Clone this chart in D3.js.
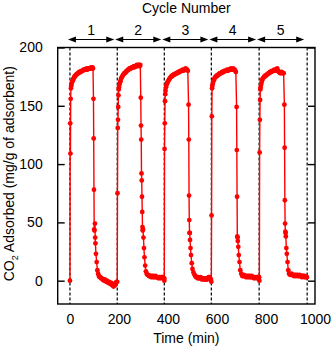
<!DOCTYPE html>
<html>
<head>
<meta charset="utf-8">
<script src="https://cdn.jsdelivr.net/npm/d3@7"></script>
<style>
  body { margin: 0; background: #fff; }
  svg { display: block; font-family: "Liberation Sans", Arial, sans-serif; }
</style>
</head>
<body>
<svg id="chart" width="331" height="348"></svg>
<script>
// cycle boundaries (min) and labels
var cycleBounds = [0, 193, 385, 577, 772, 968];
var cycleLabels = ["1", "2", "3", "4", "5"];
var xTicks = [0, 200, 400, 600, 800, 1000];
var yTicks = [0, 50, 100, 150, 200];

// [time (min), CO2 adsorbed (mg/g)]
var cycle1 = [[0,0],[1,135],[2,109],[3,156],[4,165],[5,167],[6,168],[8,170],[10,171],[12,172],[14,173],[16,174],[18,175],[20,175],[23,176],[26,177],[29,177],[32,178],[35,178],[38,179],[41,179],[44,179],[47,180],[50,180],[53,180],[56,181],[59,181],[62,181],[65,181],[68,182],[71,181],[74,182],[77,182],[80,182],[83,182],[86,183],[89,182],[92,183],[94,182],
  [96,156],[97,122],[98,78],[99,44],[100,43],[102,49],[103,37],[104,32],[106,23],[109,16],[112,9],[115,6],[118,4],[121,3],[124,3],[127,2],[130,2],[133,1],[136,1],[139,0],[142,1],[145,0],[148,-1],[151,0],[154,-1],[157,-2],[160,-1],[163,-2],[166,-3],[169,-2],[172,-4],[175,-3],[178,-5],[181,-3],[184,-4],[187,-2],[190,-1]];
var cycle2 = [[193,-1],[194,75],[195,131],[196,138],[197,149],[198,159],[199,164],[200,166],[202,168],[204,170],[206,171],[208,173],[210,174],[213,175],[216,176],[219,177],[222,178],[225,178],[228,179],[231,180],[234,180],[237,181],[240,181],[243,182],[246,182],[249,182],[252,183],[255,183],[258,183],[261,184],[264,183],[267,184],[270,184],[273,185],[276,184],[279,185],[282,185],[285,184],[287,185],
  [289,157],[290,133],[291,121],[292,92],[293,86],[294,72],[295,59],[296,46],[297,43],[298,44],[300,37],[302,28],[304,20],[307,13],[310,8],[313,6],[316,5],[319,5],[322,4],[325,4],[328,4],[331,3],[334,4],[337,3],[340,4],[343,3],[346,3],[349,4],[352,3],[355,3],[358,3],[361,2],[364,3],[367,3],[370,2],[373,3],[376,3],[379,3],[382,2],[385,2]];
var cycle3 = [[385,0],[386,113],[387,135],[388,154],[389,160],[390,163],[392,166],[394,168],[396,169],[398,170],[400,171],[403,172],[406,173],[409,174],[412,175],[415,175],[418,176],[421,176],[424,177],[427,177],[430,177],[433,178],[436,178],[439,178],[442,179],[445,179],[448,179],[451,180],[454,180],[457,180],[460,181],[463,180],[466,181],[469,181],[472,182],[475,181],[478,181],[481,180],
  [484,151],[485,121],[486,73],[487,52],[488,41],[489,41],[490,35],[492,28],[494,22],[497,15],[500,10],[504,7],[508,5],[512,4],[515,3],[518,3],[521,2],[524,3],[527,2],[530,2],[533,3],[536,2],[539,1],[542,2],[545,2],[548,1],[551,2],[554,1],[557,2],[560,1],[563,2],[566,3],[569,3],[572,2],[575,1],[577,-1]];
var cycle4 = [[578,56],[579,141],[580,165],[581,167],[583,169],[585,171],[587,172],[589,173],[591,174],[594,175],[597,175],[600,176],[603,176],[606,177],[609,177],[612,178],[615,178],[618,178],[621,179],[624,179],[627,179],[630,180],[633,180],[636,180],[639,180],[642,181],[645,180],[648,181],[651,181],[654,181],[657,182],[660,181],[663,181],[666,182],[669,181],[672,181],[675,180],[677,179],
  [680,149],[681,112],[682,72],[683,38],[684,37],[685,34],[687,29],[689,22],[692,16],[695,9],[699,6],[703,4],[706,4],[709,5],[712,4],[715,4],[718,3],[721,4],[724,3],[727,4],[730,3],[733,4],[736,3],[739,3],[742,4],[745,3],[748,3],[751,2],[754,3],[757,3],[760,2],[763,3],[766,3],[769,3],[772,3]];
var cycle5 = [[773,0],[774,110],[775,138],[776,155],[777,164],[778,166],[780,168],[782,170],[784,172],[786,173],[789,174],[792,175],[795,175],[798,176],[801,176],[804,177],[807,177],[810,178],[813,178],[816,179],[819,179],[822,179],[825,180],[828,180],[831,180],[834,181],[837,180],[840,181],[843,181],[846,182],[849,180],[852,179],[855,179],[858,178],[861,178],[864,179],[867,178],[870,178],[872,178],
  [875,151],[876,114],[877,69],[878,49],[879,42],[880,41],[881,38],[883,28],[885,23],[888,16],[891,9],[894,6],[898,5],[901,5],[904,6],[907,5],[910,5],[913,4],[916,5],[919,4],[922,5],[925,4],[928,5],[931,4],[934,4],[937,5],[940,4],[943,4],[946,3],[949,4],[952,4],[955,3],[958,4],[961,3],[964,3],[967,3]];

var series = [].concat(cycle1, cycle2, cycle3, cycle4, cycle5);

var svg = d3.select("#chart");
var plotL = 57.7, plotR = 315, plotT = 47.5, plotB = 304;

var x = d3.scaleLinear().domain([-50, 1000]).range([plotL, plotR]);
var y = d3.scaleLinear().domain([-20, 200]).range([plotB, plotT]);

// dashed cycle boundaries
svg.append("g").selectAll("line")
    .data(cycleBounds)
  .enter().append("line")
    .attr("x1", d => x(d)).attr("x2", d => x(d))
    .attr("y1", plotT).attr("y2", plotB)
    .attr("stroke", "#000")
    .attr("stroke-width", 1.2)
    .attr("stroke-dasharray", "3,2");

// data
var line = d3.line().x(d => x(d[0])).y(d => y(d[1]));
svg.append("path")
    .attr("d", line(series))
    .attr("fill", "none")
    .attr("stroke", "#ff0000")
    .attr("stroke-width", 1.4);

svg.append("g").selectAll("circle")
    .data(series)
  .enter().append("circle")
    .attr("cx", d => x(d[0]))
    .attr("cy", d => y(d[1]))
    .attr("r", 2.4)
    .attr("fill", "#ff0000");

// frame
svg.append("rect")
    .attr("x", plotL).attr("y", plotT)
    .attr("width", plotR - plotL).attr("height", plotB - plotT)
    .attr("fill", "none")
    .attr("stroke", "#000")
    .attr("stroke-width", 1.4);

// y ticks, inward on both sides
var yAxisL = d3.axisLeft(y).tickValues(yTicks).tickSizeInner(-7).tickSizeOuter(0).tickPadding(15);
var gl = svg.append("g").attr("transform", "translate(" + plotL + ",0)").call(yAxisL);
gl.select(".domain").remove();
gl.selectAll("line").attr("stroke-width", 1.4);
gl.selectAll("text").attr("font-size", 14).attr("fill", "#000").attr("font-family", "Liberation Sans, Arial, sans-serif");

var yAxisR = d3.axisRight(y).tickValues(yTicks).tickSizeInner(-7).tickSizeOuter(0).tickFormat("");
var gr = svg.append("g").attr("transform", "translate(" + plotR + ",0)").call(yAxisR);
gr.select(".domain").remove();
gr.selectAll("line").attr("stroke-width", 1.4);

// x tick labels (no tick marks)
var xAxis = d3.axisBottom(x).tickValues(xTicks).tickFormat(d3.format("d")).tickSize(0).tickPadding(10);
var gx = svg.append("g").attr("transform", "translate(0," + plotB + ")").call(xAxis);
gx.select(".domain").remove();
gx.selectAll("text").attr("font-size", 14).attr("fill", "#000").attr("font-family", "Liberation Sans, Arial, sans-serif");

// axis titles
svg.append("text")
    .attr("x", (plotL + plotR) / 2).attr("y", 343)
    .attr("text-anchor", "middle").attr("font-size", 14)
    .text("Time (min)");

var yt = svg.append("text")
    .attr("transform", "translate(13.5," + ((plotT + plotB) / 2 - 2) + ") rotate(-90)")
    .attr("text-anchor", "middle").attr("font-size", 14);
yt.append("tspan").text("CO");
yt.append("tspan").attr("font-size", 9).attr("dy", 4).text("2");
yt.append("tspan").attr("dy", -4).text(" Adsorbed (mg/g of adsorbent)");

// cycle arrows and labels
svg.append("text")
    .attr("x", (plotL + plotR) / 2).attr("y", 12.5)
    .attr("text-anchor", "middle").attr("font-size", 14)
    .text("Cycle Number");

var arrowY = 39.5, head = 8, half = 3;
cycleLabels.forEach(function(lab, i) {
  var xa = x(cycleBounds[i]) - 2, xb = x(cycleBounds[i + 1]) - 3;
  var g = svg.append("g");
  g.append("line")
      .attr("x1", xa + head - 1).attr("x2", xb - head + 1)
      .attr("y1", arrowY).attr("y2", arrowY)
      .attr("stroke", "#000").attr("stroke-width", 1.2);
  g.append("path")
      .attr("d", "M" + xa + "," + arrowY + "L" + (xa + head) + "," + (arrowY - half) + "L" + (xa + head) + "," + (arrowY + half) + "Z")
      .attr("fill", "#000");
  g.append("path")
      .attr("d", "M" + xb + "," + arrowY + "L" + (xb - head) + "," + (arrowY - half) + "L" + (xb - head) + "," + (arrowY + half) + "Z")
      .attr("fill", "#000");
  g.append("text")
      .attr("x", (xa + xb) / 2).attr("y", 34.5)
      .attr("text-anchor", "middle").attr("font-size", 14)
      .text(lab);
});
</script>
</body>
</html>
